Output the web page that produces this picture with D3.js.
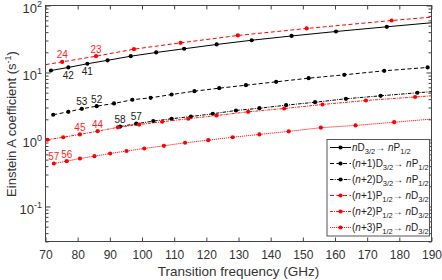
<!DOCTYPE html>
<html>
<head>
<meta charset="utf-8">
<script src="https://cdn.jsdelivr.net/npm/d3@7"></script>
<style>
body { margin: 0; background: #fff; }
text { font-family: "Liberation Sans", Arial, sans-serif; }
</style>
</head>
<body>
<svg id="chart" width="442" height="280"></svg>
<script>
// tick labels
const xTicks = [70, 80, 90, 100, 110, 120, 130, 140, 150, 160, 170, 180, 190];
const yMajor = [0.1, 1, 10, 100];
const yMajorExp = ["-1", "0", "1", "2"];

// nD3/2 -> nP1/2  (last point is outside the frame and gets clipped)
const freq_nD_nP = [71.7, 77.1, 83.0, 89.3, 96.5, 104.4, 113.1, 123.2, 134.1, 146.5, 160.3, 176.1, 193.5];
const A_nD_nP    = [10.7, 11.9, 13.5, 15.2, 17.5, 19.9, 22.6, 26.2, 30.3, 35.1, 40.9, 48.1, 57.2];
const tag_nD_nP  = [[1, "42"], [2, "41"]];

// (n+1)D3/2 -> nP1/2
const freq_n1D_nP = [72.4, 77.1, 81.3, 85.9, 91.3, 97.0, 102.7, 109.2, 116.3, 124.0, 132.3, 141.7, 151.8, 162.9, 175.3, 188.8];
const A_n1D_nP    = [2.34, 2.59, 2.87, 3.14, 3.45, 3.92, 4.19, 4.69, 5.26, 5.83, 6.46, 7.26, 8.22, 9.24, 10.6, 11.9];
const tag_n1D_nP  = [[2, "53"], [3, "52"]];

// (n+2)D3/2 -> nP1/2
const freq_n2D_nP = [93.2, 98.2, 103.5, 109.2, 115.2, 122.0, 129.2, 136.5, 144.8, 153.8, 163.4, 174.2, 185.6, 197.9];
const A_n2D_nP    = [1.56, 1.72, 1.88, 2.04, 2.20, 2.42, 2.71, 2.93, 3.25, 3.60, 4.05, 4.49, 4.98, 5.55];
const tag_n2D_nP  = [[0, "58"], [1, "57"]];

// (n+1)P1/2 -> nD3/2
const freq_n1P_nD = [66.1, 75.2, 85.7, 97.5, 112.0, 129.8, 151.2, 177.6, 208.0];
const A_n1P_nD    = [12.2, 14.4, 17.5, 22.3, 27.7, 35.7, 45.4, 59.7, 79.4];
const tag_n1P_nD  = [[1, "24"], [2, "23"]];

// (n+2)P1/2 -> nD3/2
const freq_n2P_nD = [70.6, 75.5, 80.7, 86.2, 92.5, 99.1, 106.3, 114.4, 123.2, 133.0, 144.2, 156.1, 169.6, 184.9, 201.3];
const A_n2P_nD    = [0.99, 1.08, 1.19, 1.33, 1.52, 1.67, 1.84, 2.04, 2.28, 2.59, 2.90, 3.33, 3.82, 4.31, 4.90];
const tag_n2P_nD  = [[2, "45"], [3, "44"]];

// (n+3)P1/2 -> nD3/2
const freq_n3P_nD = [72.6, 76.6, 80.7, 85.2, 90.1, 95.2, 100.7, 106.8, 113.4, 120.6, 128.2, 136.5, 145.6, 155.6, 166.4, 178.4, 191.7];
const A_n3P_nD    = [0.438, 0.475, 0.520, 0.563, 0.618, 0.673, 0.734, 0.805, 0.893, 0.976, 1.08, 1.19, 1.32, 1.50, 1.62, 1.81, 2.05];
const tag_n3P_nD  = [[0, "57"], [1, "56"]];

// legend text: [text, "i" italic | "s" subscript]
const legendLabels = [
  [["n", "i"], ["D"], ["3/2", "s"], ["\u2192 "], ["n", "i"], ["P"], ["1/2", "s"]],
  [["("], ["n", "i"], ["+1)D"], ["3/2", "s"], ["\u2192 "], ["n", "i"], ["P"], ["1/2", "s"]],
  [["("], ["n", "i"], ["+2)D"], ["3/2", "s"], ["\u2192 "], ["n", "i"], ["P"], ["1/2", "s"]],
  [["("], ["n", "i"], ["+1)P"], ["1/2", "s"], ["\u2192 "], ["n", "i"], ["D"], ["3/2", "s"]],
  [["("], ["n", "i"], ["+2)P"], ["1/2", "s"], ["\u2192 "], ["n", "i"], ["D"], ["3/2", "s"]],
  [["("], ["n", "i"], ["+3)P"], ["1/2", "s"], ["\u2192 "], ["n", "i"], ["D"], ["3/2", "s"]]
];

const series = [
  {f: freq_nD_nP,  a: A_nD_nP,  tags: tag_nD_nP,  color: "#000", dash: null,            w: 1,   below: true},
  {f: freq_n1D_nP, a: A_n1D_nP, tags: tag_n1D_nP, color: "#000", dash: "4,2.5",         w: 1,   below: false},
  {f: freq_n2D_nP, a: A_n2D_nP, tags: tag_n2D_nP, color: "#000", dash: "3.5,1.2,1,1.2", w: 1,   below: false},
  {f: freq_n1P_nD, a: A_n1P_nD, tags: tag_n1P_nD, color: "#f00", dash: "4,2.5",         w: 1,   below: false},
  {f: freq_n2P_nD, a: A_n2P_nD, tags: tag_n2P_nD, color: "#f00", dash: "3,1,1,1",       w: 0.9, below: false},
  {f: freq_n3P_nD, a: A_n3P_nD, tags: tag_n3P_nD, color: "#f00", dash: "1.2,0.8",       w: 0.9, below: false}
];

const L = 45.5, R = 431.5, T = 5.5, B = 241.5;
const x = d3.scaleLinear().domain([70, 190]).range([L, R]);
const y = d3.scaleLog().domain([0.03, 100]).range([B, T]);

const svg = d3.select("#chart");
svg.append("defs").append("clipPath").attr("id", "plot")
  .append("rect").attr("x", L).attr("y", T).attr("width", R - L).attr("height", B - T);

// minor log ticks
const yMinor = [];
for (let d = -2; d <= 1; d++) for (let k = 2; k <= 9; k++) {
  const v = k * Math.pow(10, d);
  if (v >= 0.03 && v <= 100) yMinor.push(v);
}

const axisCol = "#444";
const styleAxis = g => {
  g.select(".domain").remove();
  g.selectAll(".tick line").attr("stroke", axisCol);
  g.selectAll(".tick text").attr("fill", "#333").style("font-size", "12px").style("font-family", "Liberation Sans, Arial, sans-serif");
};

svg.append("g").attr("transform", `translate(0,${B})`)
  .call(d3.axisBottom(x).tickValues(xTicks).tickSizeInner(-4).tickSizeOuter(0).tickPadding(9)).call(styleAxis);
svg.append("g").attr("transform", `translate(0,${T})`)
  .call(d3.axisTop(x).tickValues(xTicks).tickSizeInner(-4).tickSizeOuter(0).tickFormat("")).call(styleAxis);
svg.append("g").attr("transform", `translate(${L},0)`)
  .call(d3.axisLeft(y).tickValues(yMajor).tickSizeInner(-5).tickSizeOuter(0).tickFormat("")).call(styleAxis);
svg.append("g").attr("transform", `translate(${L},0)`)
  .call(d3.axisLeft(y).tickValues(yMinor).tickSizeInner(-3).tickSizeOuter(0).tickFormat("")).call(styleAxis);
svg.append("g").attr("transform", `translate(${R},0)`)
  .call(d3.axisRight(y).tickValues(yMajor).tickSizeInner(-5).tickSizeOuter(0).tickFormat("")).call(styleAxis);
svg.append("g").attr("transform", `translate(${R},0)`)
  .call(d3.axisRight(y).tickValues(yMinor).tickSizeInner(-3).tickSizeOuter(0).tickFormat("")).call(styleAxis);

// y tick labels 10^n
yMajor.forEach((v, i) => {
  const t = svg.append("text").attr("x", 42).attr("y", y(v) + 7.5)
    .attr("text-anchor", "end").attr("fill", "#333").style("font-size", "13px");
  t.append("tspan").text("10");
  t.append("tspan").attr("dy", -6).style("font-size", "9px").text(yMajorExp[i]);
});

svg.append("rect").attr("x", L).attr("y", T).attr("width", R - L).attr("height", B - T)
  .attr("fill", "none").attr("stroke", axisCol);

// series
const line = d3.line().x(d => x(d[0])).y(d => y(d[1]));
const plot = svg.append("g").attr("clip-path", "url(#plot)");
series.forEach(s => {
  const pts = s.f.map((f, i) => [f, s.a[i]]);
  plot.append("path").datum(pts).attr("d", line)
    .attr("fill", "none").attr("stroke", s.color).attr("stroke-width", s.w)
    .attr("stroke-dasharray", s.dash);
  plot.selectAll(null).data(pts).join("circle")
    .attr("cx", d => x(d[0])).attr("cy", d => y(d[1])).attr("r", 2.1).attr("fill", s.color);
  s.tags.forEach(([i, t]) => {
    svg.append("text").attr("x", x(s.f[i])).attr("y", y(s.a[i]) + (s.below ? 11.5 : -3.5))
      .attr("text-anchor", "middle").attr("fill", s.color === "#000" ? "#222" : "#f22")
      .style("font-size", "10px").text(t);
  });
});

// legend
const lg = svg.append("g");
lg.append("rect").attr("x", 327).attr("y", 139.5).attr("width", 102.5).attr("height", 96.5)
  .attr("fill", "#fff").attr("stroke", "#555");
series.forEach((s, i) => {
  const ly = 147.5 + i * 16;
  lg.append("line").attr("x1", 330).attr("x2", 351).attr("y1", ly).attr("y2", ly)
    .attr("stroke", s.color).attr("stroke-width", s.w).attr("stroke-dasharray", s.dash);
  lg.append("circle").attr("cx", 340.5).attr("cy", ly).attr("r", 2.1).attr("fill", s.color);
  const t = lg.append("text").attr("x", 352).attr("y", ly + 3.5).attr("fill", "#222").style("font-size", "10px");
  let shift = 0;
  legendLabels[i].forEach(([txt, st]) => {
    const ts = t.append("tspan").text(txt);
    const target = st === "s" ? 3 : 0;
    if (target !== shift) { ts.attr("dy", target - shift); shift = target; }
    if (st === "i") ts.style("font-style", "italic");
    if (st === "s") ts.style("font-size", "7.5px");
  });
});

// axis titles
svg.append("text").attr("x", (L + R) / 2).attr("y", 276).attr("text-anchor", "middle")
  .attr("fill", "#333").style("font-size", "13.5px").text("Transition frequency (GHz)");
const yt = svg.append("text").attr("transform", "translate(16,124) rotate(-90)")
  .attr("text-anchor", "middle").attr("fill", "#333").style("font-size", "13px");
yt.append("tspan").text("Einstein A coefficient (s");
yt.append("tspan").attr("dy", -5).style("font-size", "9px").text("-1");
yt.append("tspan").attr("dy", 5).text(")");
</script>
</body>
</html>
